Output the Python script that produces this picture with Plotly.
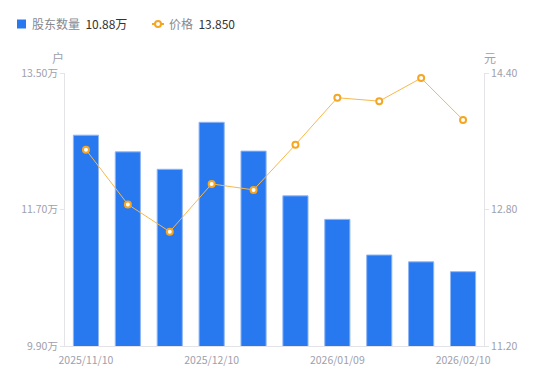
import plotly.graph_objects as go

dates = ["2025/11/10", "2025/11/20", "2025/11/28", "2025/12/10", "2025/12/19",
         "2025/12/31", "2026/01/09", "2026/01/20", "2026/01/30", "2026/02/10"]
holders = [12.68, 12.46, 12.23, 12.85, 12.47, 11.88, 11.57, 11.10, 11.01, 10.88]  # 万户
price = [13.50, 12.86, 12.54, 13.10, 13.03, 13.56, 14.11, 14.07, 14.34, 13.85]
tick_dates = ["2025/11/10", "2025/12/10", "2026/01/09", "2026/02/10"]
left_ticks = [9.90, 11.70, 13.50]
right_ticks = [11.20, 12.80, 14.40]

blue = "#2878F0"
orange = "#F5A623"
gray = "#a0a0ac"
axis_col = "#e3e3e8"
font = "Noto Sans CJK SC"

fig = go.Figure()
fig.add_trace(go.Bar(
    x=dates, y=holders, name="股东数量", yaxis="y",
    marker=dict(color=blue, line=dict(color="#8fb6f5", width=1)),
    width=0.6, showlegend=False,
))
fig.add_trace(go.Scatter(
    x=dates, y=price, name="价格", yaxis="y2", mode="lines+markers",
    line=dict(color="#F7B84B", width=1),
    marker=dict(symbol="circle", size=6, color="white", line=dict(color=orange, width=2)),
    showlegend=False,
))

fig.update_layout(
    width=550, height=381,
    margin=dict(l=65, r=66, t=73, b=35),
    paper_bgcolor="white", plot_bgcolor="white",
    font=dict(family=font, color=gray, size=11),
    xaxis=dict(
        type="category", tickmode="array", tickvals=tick_dates, ticktext=tick_dates,
        showline=True, linecolor=axis_col, linewidth=1, ticks="outside", ticklen=4,
        tickcolor="rgba(0,0,0,0)", showgrid=False,
        tickfont=dict(size=10.5, color=gray), range=[-0.5, 9.5],
    ),
    yaxis=dict(
        range=[9.90, 13.50], tickmode="array", tickvals=left_ticks,
        ticktext=[f"{v:.2f}万" for v in left_ticks],
        showline=True, linecolor=axis_col, linewidth=1, ticks="outside",
        ticklen=4, tickcolor=axis_col, showgrid=False, zeroline=False,
        tickfont=dict(size=10.5, color=gray), automargin=False,
    ),
    yaxis2=dict(
        range=[11.20, 14.40], overlaying="y", side="right", tickmode="array",
        tickvals=right_ticks, ticktext=[f"{v:.2f}" for v in right_ticks],
        showline=True, linecolor=axis_col, linewidth=1, ticks="outside",
        ticklen=4, tickcolor=axis_col, showgrid=False, zeroline=False,
        tickfont=dict(size=10.5, color=gray), automargin=False,
    ),
)

# axis unit titles
fig.add_annotation(xref="x domain", yref="y domain", x=0, y=1, xshift=-7, yshift=16,
                   xanchor="center", yanchor="middle",
                   text="户", showarrow=False, font=dict(size=12, color=gray))
fig.add_annotation(xref="x domain", yref="y domain", x=1, y=1, xshift=6, yshift=16,
                   xanchor="center", yanchor="middle",
                   text="元", showarrow=False, font=dict(size=12, color=gray))

# custom legend
leg_y = 1 + (73 - 24) / 273.0
def px_x(px):
    return (px - 65) / 419.0

fig.add_shape(type="rect", xref="paper", yref="paper",
              x0=px_x(17), x1=px_x(26), y0=leg_y - 4.5 / 273, y1=leg_y + 4.5 / 273,
              fillcolor=blue, line=dict(width=0))
fig.add_annotation(xref="paper", yref="paper", x=px_x(30), y=leg_y, xanchor="left",
                   yanchor="middle", showarrow=False,
                   text="股东数量  <span style='color:#333333'>10.88万</span>",
                   font=dict(size=12, color="#888890"))
fig.add_shape(type="line", xref="paper", yref="paper",
              x0=px_x(152), x1=px_x(164), y0=leg_y, y1=leg_y,
              line=dict(color=orange, width=2))
fig.add_shape(type="circle", xref="paper", yref="paper",
              x0=px_x(155), x1=px_x(161), y0=leg_y - 3 / 273, y1=leg_y + 3 / 273,
              fillcolor="white", line=dict(color=orange, width=2))
fig.add_annotation(xref="paper", yref="paper", x=px_x(167), y=leg_y, xanchor="left",
                   yanchor="middle", showarrow=False,
                   text="价格  <span style='color:#333333'>13.850</span>",
                   font=dict(size=12, color="#888890"))

fig.write_html("out.html", config={"displayModeBar": False},
               post_script="document.body.style.margin='0';")
